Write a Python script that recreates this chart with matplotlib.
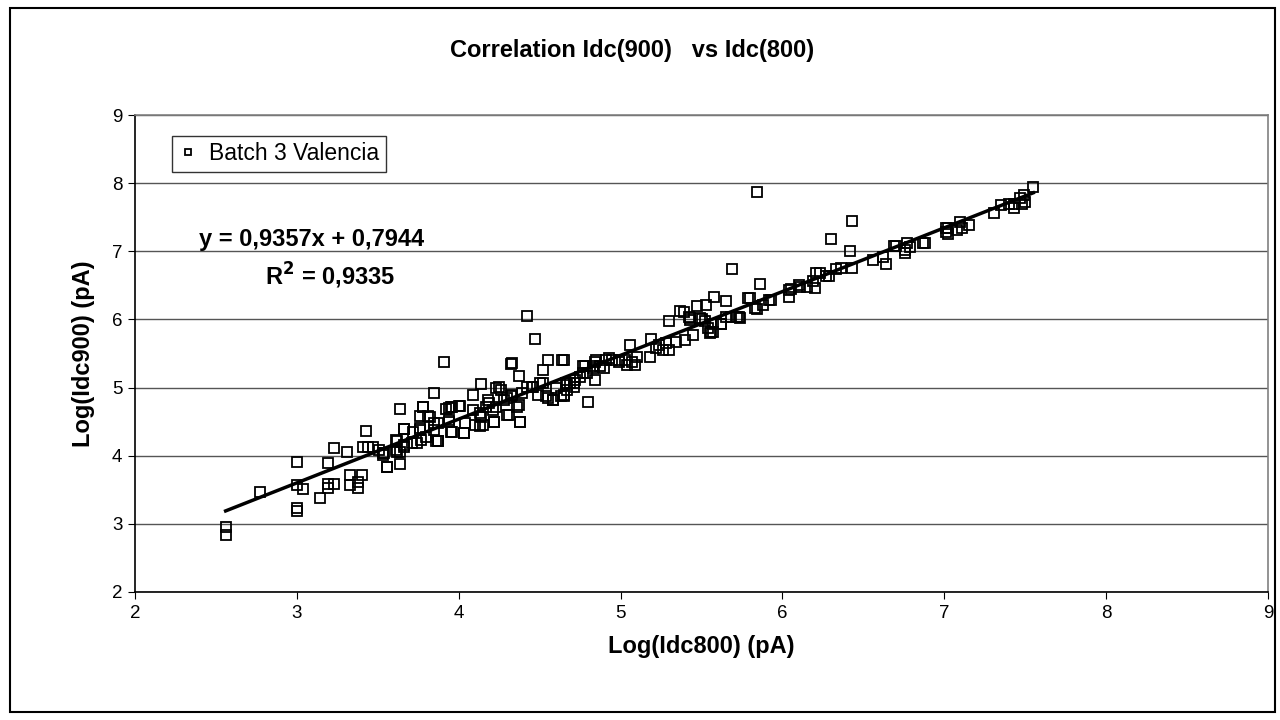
import numpy as np
import matplotlib.pyplot as plt
from matplotlib.patches import Rectangle

plt.rcParams['font.family'] = ['Liberation Sans', 'DejaVu Sans']

# Log(Idc800), Log(Idc900)
log_idc800 = [
    2.56, 2.56, 2.77, 3.00, 3.00, 3.04, 3.00, 3.00, 3.14, 3.19, 3.19, 3.19, 3.23,
    3.23, 3.31, 3.43, 3.41, 3.44, 3.47, 3.33, 3.33, 3.38, 3.38, 3.40, 3.53, 3.56,
    3.64, 3.64, 3.66, 3.62, 3.64, 3.66, 3.78, 3.76, 3.76, 3.77, 3.71, 3.85, 3.81,
    3.92, 3.96, 4.00, 3.85, 3.85, 3.94, 3.95, 3.66, 3.61, 3.66, 3.76, 3.80, 3.86,
    3.53, 3.62, 3.56, 3.51, 3.54, 3.61, 3.72, 3.74, 3.82, 3.87, 3.87, 3.94, 3.96,
    4.03, 4.04, 4.09, 4.10, 4.13, 4.14, 4.22, 4.21, 4.30, 4.38, 4.36, 4.39, 4.32,
    4.19, 4.23, 4.28, 4.47, 3.91, 4.33, 4.32, 4.55, 4.64, 4.52, 4.37, 4.14, 4.25,
    4.23, 4.26, 4.09, 4.18, 4.01, 3.94, 3.95, 3.78, 4.80, 4.84, 4.77, 4.84, 4.38,
    4.22, 4.03, 3.87, 4.45, 4.52, 4.60, 4.67, 4.49, 4.55, 4.58, 4.65, 4.30, 4.33,
    4.37, 4.31, 4.13, 4.15, 4.17, 4.42, 4.46, 4.50, 4.54, 4.58, 4.63, 4.67, 4.71,
    4.75, 4.79, 4.83, 4.87, 4.91, 4.95, 4.99, 5.04, 4.42, 4.65, 4.72, 4.69, 4.71,
    4.66, 4.65, 4.78, 4.77, 4.83, 4.90, 4.85, 4.93, 4.99, 5.03, 5.07, 5.09, 5.10,
    5.18, 5.22, 5.26, 5.30, 5.19, 5.06, 5.24, 5.28, 5.34, 5.40, 5.45, 5.30, 5.42,
    5.43, 5.50, 5.52, 5.57, 5.62, 5.65, 5.72, 5.54, 5.56, 5.55, 5.58, 5.65, 5.53,
    5.47, 5.39, 5.37, 5.84, 6.43, 6.30, 6.42, 5.69, 5.86, 6.43, 6.56, 6.62, 6.64,
    6.70, 6.77, 6.76, 6.79, 6.87, 7.01, 7.01, 6.33, 6.29, 6.21, 6.19, 6.15, 6.11,
    6.04, 6.04, 5.92, 5.88, 5.84, 5.80, 5.74, 5.68, 5.62, 5.57, 5.49, 5.43, 6.36,
    6.27, 6.23, 6.20, 6.10, 6.05, 5.93, 5.83, 5.79, 5.73, 7.55, 7.49, 7.47, 7.50,
    7.48, 7.43, 7.40, 7.35, 7.43, 7.31, 7.15, 7.10, 7.11, 7.08, 7.02, 7.02, 6.88,
    6.76, 6.69,
]
log_idc900 = [
    2.95, 2.83, 3.47, 3.91, 3.57, 3.51, 3.24, 3.19, 3.38, 3.89, 3.58, 3.52, 3.59,
    4.12, 4.05, 4.37, 4.13, 4.13, 4.13, 3.72, 3.57, 3.62, 3.52, 3.71, 4.04, 3.84,
    3.88, 4.69, 4.39, 4.21, 4.06, 4.13, 4.72, 4.58, 4.40, 4.23, 4.18, 4.92, 4.58,
    4.68, 4.71, 4.73, 4.48, 4.38, 4.50, 4.35, 4.39, 4.23, 4.16, 4.38, 4.28, 4.21,
    4.01, 4.06, 3.83, 4.08, 4.04, 4.08, 4.35, 4.18, 4.57, 4.21, 4.48, 4.52, 4.35,
    4.33, 4.48, 4.67, 4.45, 4.43, 4.57, 4.50, 4.67, 4.60, 4.50, 4.72, 4.92, 4.87,
    4.77, 4.72, 4.82, 5.72, 5.38, 5.36, 5.34, 5.40, 5.40, 5.26, 5.17, 5.05, 5.01,
    4.99, 4.96, 4.89, 4.82, 4.73, 4.70, 4.71, 4.72, 4.79, 5.11, 5.31, 5.38, 4.50,
    4.50, 4.33, 4.21, 5.01, 5.06, 4.99, 5.04, 4.89, 4.84, 4.82, 4.87, 4.84, 4.89,
    4.74, 4.60, 4.62, 4.45, 4.72, 5.01, 5.01, 5.06, 4.87, 4.82, 4.87, 4.97, 5.06,
    5.16, 5.21, 5.31, 5.31, 5.40, 5.40, 5.38, 5.33, 6.05, 5.40, 5.11, 5.06, 5.01,
    5.06, 4.89, 5.31, 5.21, 5.28, 5.28, 5.40, 5.43, 5.40, 5.40, 5.38, 5.33, 5.45,
    5.45, 5.58, 5.55, 5.55, 5.72, 5.62, 5.62, 5.65, 5.67, 5.70, 5.77, 5.98, 6.04,
    5.99, 6.00, 5.97, 5.94, 5.94, 6.04, 6.04, 5.87, 5.82, 5.80, 6.33, 6.27, 6.21,
    6.19, 6.11, 6.13, 7.87, 7.45, 7.18, 7.01, 6.74, 6.52, 6.76, 6.87, 6.91, 6.82,
    7.08, 7.12, 7.02, 7.06, 7.12, 7.34, 7.29, 6.74, 6.63, 6.68, 6.56, 6.48, 6.48,
    6.43, 6.33, 6.28, 6.21, 6.16, 6.32, 6.02, 6.04, 5.94, 5.82, 6.02, 6.02, 6.75,
    6.63, 6.68, 6.46, 6.50, 6.45, 6.29, 6.17, 6.32, 6.03, 7.94, 7.83, 7.78, 7.73,
    7.70, 7.70, 7.70, 7.68, 7.63, 7.56, 7.39, 7.43, 7.34, 7.31, 7.34, 7.26, 7.12,
    6.97, 7.08,
]

# linear trend line shown on the chart
slope = 0.9357
intercept = 0.7944
r2 = 0.9335

x = np.array(log_idc800)
y = np.array(log_idc900)

fig = plt.figure(figsize=(12.8, 7.2), dpi=100)
ax = fig.add_axes([135 / 1280, 1 - 592 / 720, (1268 - 135) / 1280, (592 - 115) / 720])

ax.plot(x, y, 's', ms=7.5, mfc='none', mec='black', mew=1.3, label='Batch 3 Valencia', zorder=3)
xf = np.array([x.min(), x.max()])
ax.plot(xf, slope * xf + intercept, color='black', lw=2.5, zorder=4)

ax.set_xlim(2, 9)
ax.set_ylim(2, 9)
ax.set_xticks(range(2, 10))
ax.set_yticks(range(2, 10))
ax.grid(axis='y', color='#555555', lw=1)
ax.set_axisbelow(True)
ax.tick_params(labelsize=13.5, length=5, direction='out', pad=4)
for s in ['left', 'bottom']:
    ax.spines[s].set_color('black')
    ax.spines[s].set_linewidth(1.2)
for s in ['top', 'right']:
    ax.spines[s].set_color('#808080')
    ax.spines[s].set_linewidth(1.2)

ax.set_xlabel('Log(Idc800) (pA)', fontsize=17, fontweight='bold', labelpad=10)
ax.set_ylabel('Log(Idc900) (pA)', fontsize=17, fontweight='bold', labelpad=12)
fig.text(632 / 1280, 1 - 50 / 720, 'Correlation Idc(900)   vs Idc(800)', ha='center', va='center',
         fontsize=17, fontweight='bold')

leg = ax.legend(loc='upper left', bbox_to_anchor=(0.033, 0.957), fontsize=16.5, frameon=True,
                fancybox=False, edgecolor='black', markerscale=0.55, handlelength=0.8,
                handletextpad=0.5, borderpad=0.3, borderaxespad=0)
leg.get_frame().set_linewidth(1)

fig.text(312 / 1280, 1 - 240 / 720, 'y = 0,9357x + 0,7944', ha='center', va='center',
         fontsize=17, fontweight='bold')
fig.text(330 / 1280, 1 - 276 / 720, r'R$^\mathbf{2}$ = 0,9335', ha='center', va='center',
         fontsize=17, fontweight='bold')

fig.add_artist(Rectangle((10 / 1280, 8 / 720), 1265 / 1280, 704 / 720, transform=fig.transFigure,
                         fill=False, edgecolor='black', lw=1.5))

fig.savefig('out.png', dpi=100)
